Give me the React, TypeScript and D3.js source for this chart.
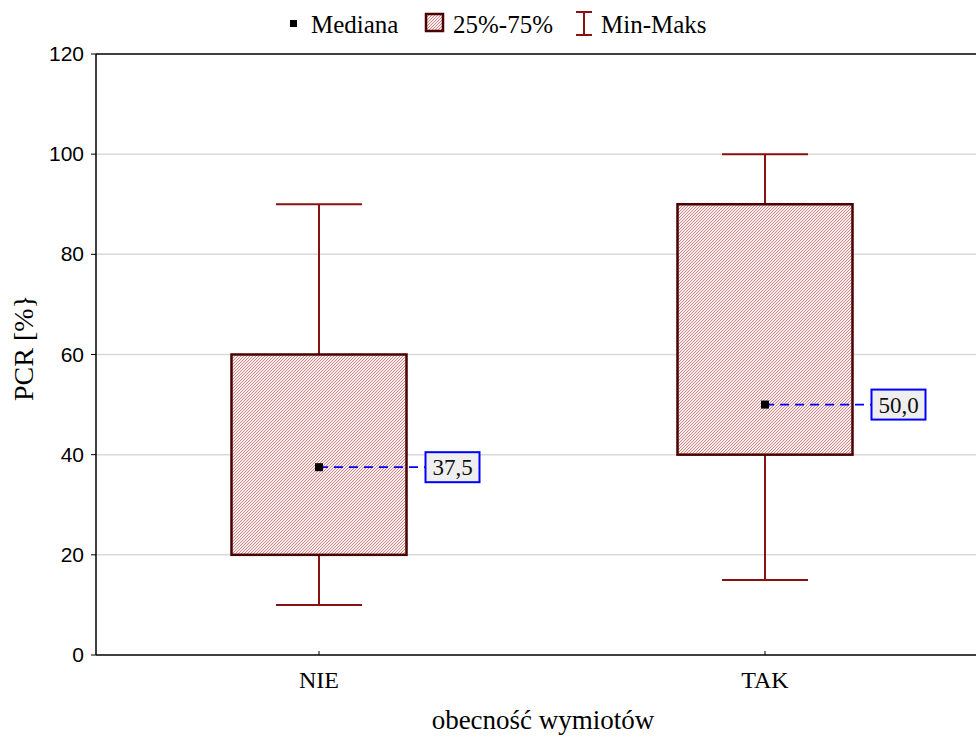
import React from "react";
import * as d3 from "d3";

const categories = ["NIE", "TAK"];
const minValues = [10, 15];
const q1Values = [20, 40];
const medianValues = [37.5, 50];
const q3Values = [60, 90];
const maxValues = [90, 100];
const yTicks = [0, 20, 40, 60, 80, 100, 120];
const yTitle = "PCR [%}";
const xTitle = "obecność wymiotów";

const W = 976;
const H = 738;
const margin = { left: 96, top: 54, bottom: 655, right: 988 };

const serif = "'Liberation Serif', 'Times New Roman', serif";
const sans = "'Liberation Sans', Arial, sans-serif";

export default function App() {
  const y = d3.scaleLinear().domain([0, 120]).range([margin.bottom, margin.top]);
  const x = d3
    .scalePoint<string>()
    .domain(categories)
    .range([margin.left, margin.right])
    .padding(0.5);
  const boxW = 175;
  const capW = 86;
  const fmt = (v: number) => v.toFixed(1).replace(".", ",");

  return (
    <svg
      width={W}
      height={H}
      style={{ position: "absolute", left: 0, top: 0, background: "#fff" }}
    >
      <defs>
        {/* fine diagonal hatch for the interquartile boxes */}
        <pattern id="hatch" patternUnits="userSpaceOnUse" width="3" height="3">
          <rect width="3" height="3" fill="#f9eded" />
          <path d="M-1,1 l2,-2 M0,3 l3,-3 M2,4 l2,-2" stroke="#c97c7c" strokeWidth="0.9" />
        </pattern>
      </defs>

      {/* grid */}
      {yTicks
        .filter((t) => t > 0 && t < 120)
        .map((t) => (
          <line
            key={"g" + t}
            x1={margin.left}
            x2={margin.right}
            y1={y(t)}
            y2={y(t)}
            stroke="#d9d9d9"
            strokeWidth={1.5}
          />
        ))}

      {/* boxes and whiskers */}
      {categories.map((c, i) => {
        const cx = x(c)!;
        return (
          <g key={c}>
            <line x1={cx} x2={cx} y1={y(maxValues[i])} y2={y(q3Values[i])} stroke="#8b1010" strokeWidth={2} />
            <line x1={cx} x2={cx} y1={y(q1Values[i])} y2={y(minValues[i])} stroke="#8b1010" strokeWidth={2} />
            <line x1={cx - capW / 2} x2={cx + capW / 2} y1={y(maxValues[i])} y2={y(maxValues[i])} stroke="#8b1010" strokeWidth={2} />
            <line x1={cx - capW / 2} x2={cx + capW / 2} y1={y(minValues[i])} y2={y(minValues[i])} stroke="#8b1010" strokeWidth={2} />
            <rect
              x={cx - boxW / 2}
              y={y(q3Values[i])}
              width={boxW}
              height={y(q1Values[i]) - y(q3Values[i])}
              fill="url(#hatch)"
              stroke="#4a0000"
              strokeWidth={2.5}
            />
          </g>
        );
      })}

      {/* median markers with value labels */}
      {categories.map((c, i) => {
        const cx = x(c)!;
        const my = y(medianValues[i]);
        const lx = cx + boxW / 2 + 19;
        return (
          <g key={"m" + c}>
            <line
              x1={cx}
              x2={lx}
              y1={my}
              y2={my}
              stroke="#0000ff"
              strokeWidth={1.8}
              strokeDasharray="9,6"
            />
            <rect x={cx - 4} y={my - 4} width={8} height={8} fill="#000" />
            <rect x={lx} y={my - 15} width={54} height={30} fill="#efefef" stroke="#0000ff" strokeWidth={2} />
            <text
              x={lx + 27}
              y={my + 8}
              textAnchor="middle"
              fontFamily={serif}
              fontSize={23}
              fill="#111"
            >
              {fmt(medianValues[i])}
            </text>
          </g>
        );
      })}

      {/* axes frame */}
      <line x1={margin.left} x2={margin.right} y1={margin.top} y2={margin.top} stroke="#000" strokeWidth={1.5} />
      <line x1={margin.left} x2={margin.right} y1={margin.bottom} y2={margin.bottom} stroke="#000" strokeWidth={1.5} />
      <line x1={margin.left} x2={margin.left} y1={margin.top} y2={margin.bottom} stroke="#000" strokeWidth={1.5} />

      {/* y ticks */}
      {yTicks.map((t) => (
        <g key={"t" + t}>
          <line x1={margin.left - 5} x2={margin.left} y1={y(t)} y2={y(t)} stroke="#000" strokeWidth={1} />
          <text
            x={84}
            y={y(t) + 7}
            textAnchor="end"
            fontFamily={sans}
            fontSize={21}
            fill="#000"
          >
            {t}
          </text>
        </g>
      ))}

      {/* x ticks */}
      {categories.map((c) => (
        <g key={"x" + c}>
          <line x1={x(c)!} x2={x(c)!} y1={margin.bottom} y2={margin.bottom - 4} stroke="#000" strokeWidth={1} />
          <text
            x={x(c)!}
            y={688}
            textAnchor="middle"
            fontFamily={serif}
            fontSize={24}
            fill="#000"
          >
            {c}
          </text>
        </g>
      ))}

      {/* axis titles */}
      <text x={543} y={729} textAnchor="middle" fontFamily={serif} fontSize={27} fill="#000">
        {xTitle}
      </text>
      <text
        transform={`translate(33,348) rotate(-90)`}
        textAnchor="middle"
        fontFamily={serif}
        fontSize={28}
        fill="#000"
      >
        {yTitle}
      </text>

      {/* legend */}
      <g>
        <rect x={290} y={20} width={7} height={7} fill="#000" />
        <text x={311} y={33} fontFamily={serif} fontSize={25} fill="#000">
          Mediana
        </text>
        <rect x={426} y={14} width={17} height={17} fill="url(#hatch)" stroke="#4a0000" strokeWidth={2.5} />
        <text x={453} y={33} fontFamily={serif} fontSize={25} fill="#000">
          25%-75%
        </text>
        <line x1={576} x2={592} y1={12} y2={12} stroke="#8b1010" strokeWidth={2} />
        <line x1={576} x2={592} y1={35} y2={35} stroke="#8b1010" strokeWidth={2} />
        <line x1={584} x2={584} y1={12} y2={35} stroke="#8b1010" strokeWidth={2} />
        <text x={601} y={33} fontFamily={serif} fontSize={25} fill="#000">
          Min-Maks
        </text>
      </g>
    </svg>
  );
}
